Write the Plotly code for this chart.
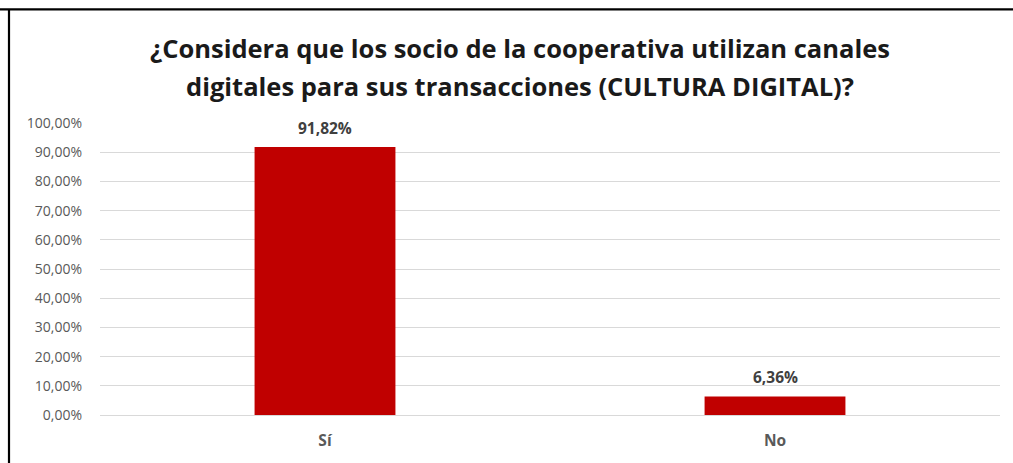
import plotly.graph_objects as go

categories = ["Sí", "No"]
values = [0.9182, 0.0636]
title_lines = ["¿Considera que los socio de la cooperativa utilizan canales",
               "digitales para sus transacciones (CULTURA DIGITAL)?"]

W, H = 1013, 463
L, R, T, B = 100, 13, 123, 46
PW, PH = W - L - R, H - T - B

def px_x(p):
    return (p - L) / PW

def px_y(p):
    return (H - B - p) / PH

fig = go.Figure(go.Bar(
    x=categories, y=values,
    marker=dict(color="#c00000", line=dict(width=0)),
    width=0.313,
    hoverinfo="x+y",
))

for c, v in zip(categories, values):
    fig.add_annotation(
        x=c, y=v, xref="x", yref="y", text=f"{v * 100:.2f}%".replace(".", ","),
        showarrow=False, yanchor="middle", yshift=19,
        font=dict(family="Open Sans", size=15.5, color="#404040", weight="bold"),
    )

fig.update_layout(
    width=W, height=H,
    margin=dict(l=L, r=R, t=T, b=B),
    paper_bgcolor="white", plot_bgcolor="white",
    separators=",.",
    showlegend=False,
    font=dict(family="Open Sans"),
    xaxis=dict(showgrid=False, showline=False, zeroline=False, ticks="",
               tickfont=dict(family="Open Sans", size=15.5, color="#595959", weight="bold"),
               ticklabelstandoff=14),
    yaxis=dict(range=[0, 1.0], tickvals=[i / 10 for i in range(11)], tickformat=".2%",
               showgrid=True, gridcolor="#d9d9d9", gridwidth=1,
               zeroline=True, zerolinecolor="#d9d9d9", zerolinewidth=1,
               showline=False, ticks="",
               tickfont=dict(family="Open Sans", size=14, color="#595959"),
               ticklabelstandoff=17),
    shapes=[
        dict(type="line", xref="paper", yref="paper", x0=px_x(0), x1=px_x(W), y0=px_y(8.5), y1=px_y(8.5),
             line=dict(color="black", width=2.2)),
        dict(type="line", xref="paper", yref="paper", x0=px_x(9), x1=px_x(9), y0=px_y(8.5), y1=px_y(H + 5),
             line=dict(color="black", width=2.2)),
    ],
)

for i, line in enumerate(title_lines):
    fig.add_annotation(
        text=line, xref="paper", yref="paper", x=px_x(520), y=px_y(47 + 39 * i),
        xanchor="center", yanchor="middle", showarrow=False,
        font=dict(family="Open Sans", size=25.5, color="#1a1a1a", weight="bold"),
    )

fig.write_html(
    "out.html",
    config={"displayModeBar": False},
    post_script="document.body.style.margin='0';document.body.style.overflow='hidden';",
)
